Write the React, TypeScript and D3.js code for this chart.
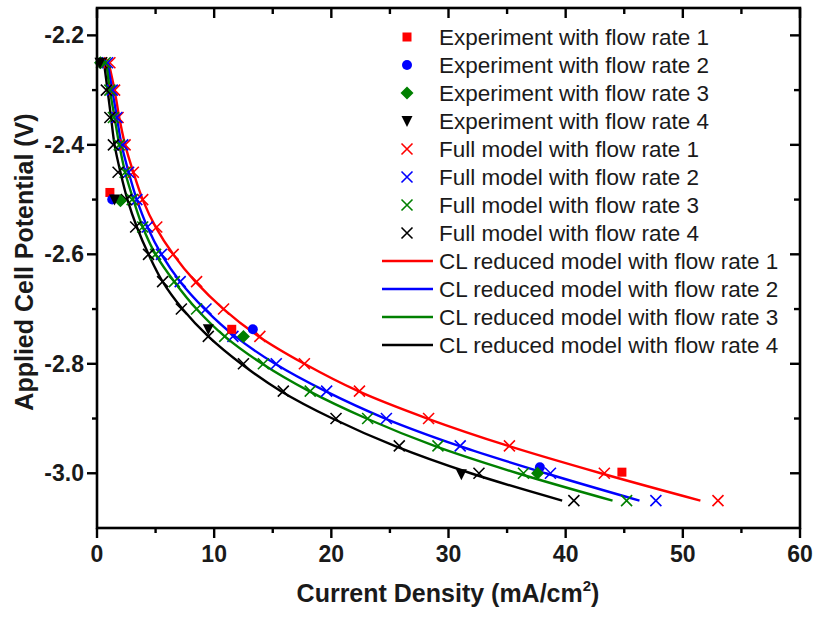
import React from "react";
import * as d3 from "d3";

// Potential levels (V) at which the model curves are sampled
const potentialLevels = [-2.25, -2.3, -2.35, -2.4, -2.45, -2.5, -2.55, -2.6, -2.65, -2.7, -2.75, -2.8, -2.85, -2.9, -2.95, -3.0, -3.05];

// Full model (x markers), current density mA/cm2
const fullModel1 = [1.1, 1.5, 1.8, 2.4, 3.1, 3.9, 5.1, 6.5, 8.5, 10.8, 13.9, 17.7, 22.4, 28.3, 35.2, 43.3, 53.0];
const fullModel2 = [0.9, 1.3, 1.7, 2.2, 2.7, 3.4, 4.3, 5.5, 7.1, 9.3, 11.6, 15.3, 19.6, 24.7, 31.0, 38.7, 47.7];
const fullModel3 = [0.7, 1.1, 1.4, 1.9, 2.4, 3.0, 3.9, 5.0, 6.6, 8.5, 10.9, 14.2, 18.2, 23.1, 29.1, 36.4, 45.2];
const fullModel4 = [0.4, 0.8, 1.1, 1.4, 1.8, 2.5, 3.3, 4.4, 5.6, 7.2, 9.5, 12.5, 15.9, 20.4, 25.8, 32.6, 40.7];

// CL reduced model (lines)
const reduced1 = [1.0, 1.5, 1.9, 2.4, 3.1, 3.9, 5.0, 6.5, 8.4, 10.8, 13.8, 17.7, 22.3, 28.2, 35.1, 43.0, 51.5];
const reduced2 = [0.9, 1.3, 1.7, 2.1, 2.7, 3.4, 4.3, 5.5, 7.1, 9.2, 11.8, 15.2, 19.5, 24.6, 30.9, 38.3, 46.3];
const reduced3 = [0.8, 1.1, 1.5, 1.9, 2.4, 3.1, 3.9, 5.0, 6.6, 8.5, 10.9, 14.1, 18.1, 23.0, 28.8, 35.9, 44.0];
const reduced4 = [0.6, 0.9, 1.2, 1.5, 2.0, 2.6, 3.4, 4.4, 5.6, 7.3, 9.5, 12.3, 15.7, 20.1, 25.4, 31.9, 39.7];

// Experiments
const exp1J = [0.3, 1.1, 11.5, 44.8];
const exp1V = [-2.25, -2.487, -2.737, -2.998];
const exp2J = [0.3, 1.3, 13.3, 37.8];
const exp2V = [-2.25, -2.5, -2.737, -2.989];
const exp3J = [0.3, 2.0, 12.5, 37.6];
const exp3V = [-2.25, -2.502, -2.75, -3.0];
const exp4J = [0.25, 1.5, 9.5, 31.1];
const exp4V = [-2.25, -2.5, -2.737, -3.002];

const xMajor = [0, 10, 20, 30, 40, 50, 60];
const xMinor = [5, 15, 25, 35, 45, 55];
const yMajor = [-2.2, -2.4, -2.6, -2.8, -3.0];
const yMinor = [-2.3, -2.5, -2.7, -2.9];

const colors = ["#ff0000", "#0000ff", "#008000", "#000000"];
const rateLabels = ["1", "2", "3", "4"];

const W = 818, H = 617;
const L = 97, R = 800, T = 8, B = 528;
const FONT = "'Liberation Sans', Arial, sans-serif";

type Shape = "square" | "circle" | "diamond" | "triangle" | "x";

function Marker({ shape, x, y, color }: { shape: Shape; x: number; y: number; color: string }) {
  if (shape === "square") return <rect x={x - 4.5} y={y - 4.5} width={9} height={9} fill={color} />;
  if (shape === "circle") return <circle cx={x} cy={y} r={5} fill={color} />;
  if (shape === "diamond") return <path d={`M${x},${y - 6.5}L${x + 6.5},${y}L${x},${y + 6.5}L${x - 6.5},${y}Z`} fill={color} />;
  if (shape === "triangle") return <path d={`M${x - 5.5},${y - 5}L${x + 5.5},${y - 5}L${x},${y + 6}Z`} fill={color} />;
  const s = 5.5;
  return (
    <path d={`M${x - s},${y - s}L${x + s},${y + s}M${x - s},${y + s}L${x + s},${y - s}`} stroke={color} strokeWidth={1.6} fill="none" />
  );
}

export default function App() {
  const x = d3.scaleLinear().domain([0, 60]).range([L, R]);
  const y = d3.scaleLinear().domain([-3.1, -2.15]).range([B, T]);

  const fulls = [fullModel1, fullModel2, fullModel3, fullModel4];
  const reds = [reduced1, reduced2, reduced3, reduced4];
  const exps = [
    [exp1J, exp1V],
    [exp2J, exp2V],
    [exp3J, exp3V],
    [exp4J, exp4V],
  ];
  const expShapes: Shape[] = ["square", "circle", "diamond", "triangle"];

  const line = d3
    .line<[number, number]>()
    .x((d) => x(d[0]))
    .y((d) => y(d[1]))
    .curve(d3.curveCatmullRom.alpha(0.5));

  const legendItems: { label: string; color: string; kind: Shape | "line" }[] = [];
  rateLabels.forEach((r, i) => legendItems.push({ label: `Experiment with flow rate ${r}`, color: colors[i], kind: expShapes[i] }));
  rateLabels.forEach((r, i) => legendItems.push({ label: `Full model with flow rate ${r}`, color: colors[i], kind: "x" }));
  rateLabels.forEach((r, i) => legendItems.push({ label: `CL reduced model with flow rate ${r}`, color: colors[i], kind: "line" }));

  return (
    <div style={{ position: "fixed", left: 0, top: 0 }}>
      <svg width={W} height={H} style={{ display: "block", background: "#fff" }} fontFamily={FONT}>
        <rect width={W} height={H} fill="#fff" />
        {/* lines */}
        {reds.map((arr, i) => (
          <path
            key={"l" + i}
            d={line(arr.map((j, k) => [j, potentialLevels[k]] as [number, number])) || ""}
            fill="none"
            stroke={colors[i]}
            strokeWidth={2.4}
          />
        ))}
        {/* full model */}
        {fulls.map((arr, i) =>
          arr.map((j, k) => <Marker key={`f${i}-${k}`} shape="x" x={x(j)} y={y(potentialLevels[k])} color={colors[i]} />)
        )}
        {/* experiments */}
        {exps.map(([js, vs], i) =>
          js.map((j, k) => <Marker key={`e${i}-${k}`} shape={expShapes[i]} x={x(j)} y={y(vs[k])} color={colors[i]} />)
        )}

        {/* frame */}
        <rect x={L} y={T} width={R - L} height={B - T} fill="none" stroke="#000" strokeWidth={2.6} />
        {/* x ticks */}
        {xMajor.map((v) => (
          <g key={"xM" + v}>
            <line x1={x(v)} x2={x(v)} y1={B} y2={B + 10} stroke="#000" strokeWidth={2.4} />
            <line x1={x(v)} x2={x(v)} y1={T} y2={T + 10} stroke="#000" strokeWidth={2.4} />
            <text x={x(v)} y={562} textAnchor="middle" fontSize={23} fontWeight="bold" fill="#1a1a1a">
              {v}
            </text>
          </g>
        ))}
        {xMinor.map((v) => (
          <g key={"xm" + v}>
            <line x1={x(v)} x2={x(v)} y1={B} y2={B + 5} stroke="#000" strokeWidth={2.4} />
            <line x1={x(v)} x2={x(v)} y1={T} y2={T + 6} stroke="#000" strokeWidth={2.4} />
          </g>
        ))}
        {/* y ticks */}
        {yMajor.map((v) => (
          <g key={"yM" + v}>
            <line x1={L - 10} x2={L} y1={y(v)} y2={y(v)} stroke="#000" strokeWidth={2.4} />
            <line x1={R - 10} x2={R} y1={y(v)} y2={y(v)} stroke="#000" strokeWidth={2.4} />
            <text x={84} y={y(v) + 8} textAnchor="end" fontSize={23} fontWeight="bold" fill="#1a1a1a">
              {v.toFixed(1)}
            </text>
          </g>
        ))}
        {yMinor.map((v) => (
          <g key={"ym" + v}>
            <line x1={L - 5} x2={L} y1={y(v)} y2={y(v)} stroke="#000" strokeWidth={2.4} />
            <line x1={R - 6} x2={R} y1={y(v)} y2={y(v)} stroke="#000" strokeWidth={2.4} />
          </g>
        ))}

        {/* axis titles */}
        <text x={448} y={602} textAnchor="middle" fontSize={25} fontWeight="bold" fill="#1a1a1a">
          Current Density (mA/cm
          <tspan fontSize={15} dy={-11}>2</tspan>
          <tspan dy={11}>)</tspan>
        </text>
        <text transform={`translate(33,262) rotate(-90)`} textAnchor="middle" fontSize={25} fontWeight="bold" fill="#1a1a1a">
          {"Applied Cell Potential (V)"}
        </text>

        {/* legend */}
        {legendItems.map((it, i) => {
          const cy = 37 + 28 * i;
          return (
            <g key={"lg" + i}>
              {it.kind === "line" ? (
                <line x1={382} x2={433} y1={cy} y2={cy} stroke={it.color} strokeWidth={2.4} />
              ) : (
                <Marker shape={it.kind} x={407} y={cy} color={it.color} />
              )}
              <text x={439} y={cy + 8} fontSize={22.5} fill="#1a1a1a">
                {it.label}
              </text>
            </g>
          );
        })}
      </svg>
    </div>
  );
}
